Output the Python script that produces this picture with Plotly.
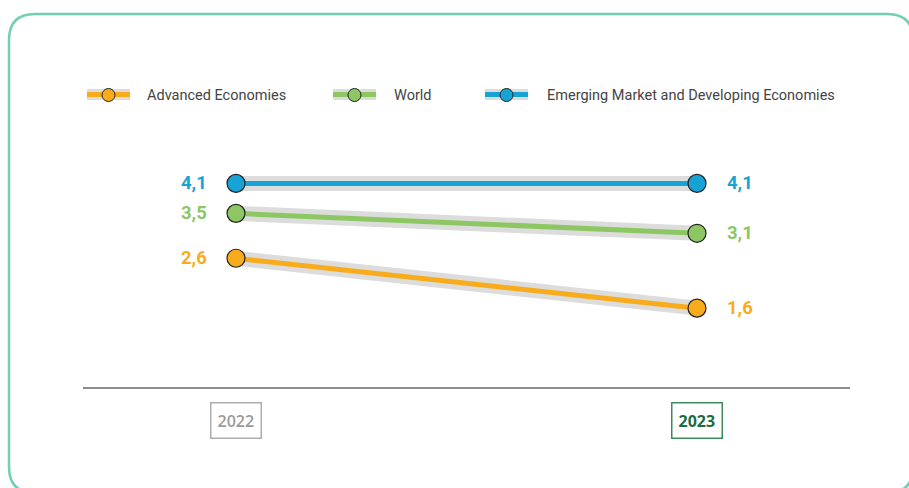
import plotly.graph_objects as go

years = [2022, 2023]
series_names = ["Advanced Economies", "World", "Emerging Market and Developing Economies"]
advanced = [2.6, 1.6]
world = [3.5, 3.1]
emerging = [4.1, 4.1]
year_labels = ["2022", "2023"]

colors = {"Advanced Economies": "#f8ac1c", "World": "#8cc763", "Emerging Market and Developing Economies": "#18a3d6"}
values = {"Advanced Economies": advanced, "World": world, "Emerging Market and Developing Economies": emerging}

W, H = 909, 488
def px(x):
    return x / W
def py(y):
    return 1 - y / H

fig = go.Figure()

for name in series_names:
    v = values[name]
    fig.add_trace(go.Scatter(x=years, y=v, mode="lines", line=dict(color="#dcdcdc", width=15),
                             hoverinfo="skip", showlegend=False))
for name in series_names:
    v = values[name]
    fig.add_trace(go.Scatter(x=years, y=v, mode="lines+markers", name=name,
                             line=dict(color=colors[name], width=5),
                             marker=dict(size=18, color=colors[name], line=dict(color="#222", width=1.2)),
                             showlegend=False))

annotations = []
for name in series_names:
    v = values[name]
    annotations.append(dict(x=years[0], y=v[0], text=f"{v[0]:.1f}".replace(".", ","), xref="x", yref="y",
                            xanchor="right", yanchor="middle", xshift=-27, showarrow=False,
                            font=dict(family="Roboto", size=18.5, color=colors[name], weight="bold")))
    annotations.append(dict(x=years[1], y=v[1], text=f"{v[1]:.1f}".replace(".", ","), xref="x", yref="y",
                            xanchor="left", yanchor="middle", xshift=28, showarrow=False,
                            font=dict(family="Roboto", size=18.5, color=colors[name], weight="bold")))

annotations.append(dict(x=years[0], y=py(420), xref="x", yref="paper", text=year_labels[0], showarrow=False,
                        xanchor="center", yanchor="middle",
                        font=dict(family="Open Sans", size=16, color="#9a9a9a", weight=600),
                        bordercolor="#adadad", borderwidth=1.5, borderpad=6, bgcolor="white"))
annotations.append(dict(x=years[1], y=py(420), xref="x", yref="paper", text=year_labels[1], showarrow=False,
                        xanchor="center", yanchor="middle",
                        font=dict(family="Open Sans", size=16, color="#1d6b3e", weight="bold"),
                        bordercolor="#3d8c5c", borderwidth=1.5, borderpad=6, bgcolor="white"))

shapes = []
x0, y0, x1, y1, r = 9, 14, 913, 493, 26
path = (f"M {px(x0+r)},{py(y0)} L {px(x1-r)},{py(y0)} Q {px(x1)},{py(y0)} {px(x1)},{py(y0+r)} "
        f"L {px(x1)},{py(y1-r)} Q {px(x1)},{py(y1)} {px(x1-r)},{py(y1)} "
        f"L {px(x0+r)},{py(y1)} Q {px(x0)},{py(y1)} {px(x0)},{py(y1-r)} "
        f"L {px(x0)},{py(y0+r)} Q {px(x0)},{py(y0)} {px(x0+r)},{py(y0)} Z")
shapes.append(dict(type="path", path=path, xref="paper", yref="paper",
                   line=dict(color="#72cfb3", width=2.5), layer="below"))
shapes.append(dict(type="line", xref="paper", yref="y", x0=px(83), x1=px(850), y0=0, y1=0,
                   line=dict(color="#666666", width=1.5)))

legend_pos = [(87, 145), (333, 392), (485, 545)]
for (sx, tx), name in zip(legend_pos, series_names):
    shapes.append(dict(type="rect", xref="paper", yref="paper", x0=px(sx), x1=px(sx + 43),
                       y0=py(100), y1=py(89), fillcolor="#dcdcdc", line=dict(width=0)))
    shapes.append(dict(type="rect", xref="paper", yref="paper", x0=px(sx), x1=px(sx + 43),
                       y0=py(97), y1=py(92), fillcolor=colors[name], line=dict(width=0)))
    cx = sx + 21.5
    shapes.append(dict(type="circle", xref="paper", yref="paper", x0=px(cx - 6.5), x1=px(cx + 6.5),
                       y0=py(101.5), y1=py(88.5), fillcolor=colors[name], line=dict(color="#222", width=1)))
    annotations.append(dict(x=px(tx), y=py(95), xref="paper", yref="paper", text=name, showarrow=False,
                            xanchor="left", yanchor="middle",
                            font=dict(family="Roboto", size=14.5, color="#444444")))

ppx = 697 - 236
xr = [2022 - 236 / ppx, 2022 + (W - 236) / ppx]
ppy = 49.9
y0px = 388
yr = [-(H - y0px) / ppy, y0px / ppy]

fig.update_layout(
    width=W, height=H, margin=dict(l=0, r=0, t=0, b=0),
    paper_bgcolor="white", plot_bgcolor="white",
    xaxis=dict(range=xr, visible=False, fixedrange=True),
    yaxis=dict(range=yr, visible=False, fixedrange=True),
    shapes=shapes, annotations=annotations, showlegend=False,
)

fig.write_html("out.html", config={"displayModeBar": False},
               post_script="document.body.style.margin='0';document.body.style.overflow='hidden';")
